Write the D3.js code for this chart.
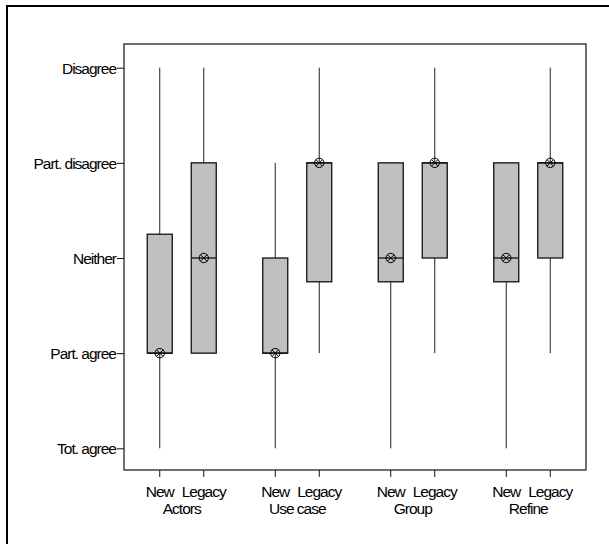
<!DOCTYPE html>
<html>
<head>
<meta charset="utf-8">
<script src="https://cdn.jsdelivr.net/npm/d3@7/dist/d3.min.js"></script>
<style>
  html, body { margin: 0; padding: 0; background: #fff; }
  svg text { font-family: "Liberation Sans", Arial, sans-serif; font-size: 15.5px; fill: #000; letter-spacing: -1px; }
</style>
</head>
<body>
<svg id="chart" width="609" height="544"></svg>
<script>
// Likert scale levels, 1 = Tot. agree ... 5 = Disagree
const levelLabels = ["Tot. agree", "Part. agree", "Neither", "Part. disagree", "Disagree"];
const levelValues = [1, 2, 3, 4, 5];

// Question groups and model variants
const groups = ["Actors", "Use case", "Group", "Refine"];
const variants = ["New", "Legacy"];

// One entry per box, ordered Actors-New, Actors-Legacy, Use case-New, ...
const boxGroup   = ["Actors", "Actors", "Use case", "Use case", "Group", "Group", "Refine", "Refine"];
const boxVariant = ["New", "Legacy", "New", "Legacy", "New", "Legacy", "New", "Legacy"];
const whiskerLow  = [1, 2, 1, 2, 1, 2, 1, 2];
const quartile1   = [2, 2, 2, 2.75, 2.75, 3, 2.75, 3];
const medians     = [2, 3, 2, 4, 3, 4, 3, 4];
const quartile3   = [3.25, 4, 3, 4, 4, 4, 4, 4];
const whiskerHigh = [5, 5, 4, 5, 4, 5, 4, 5];
const markers     = [2, 3, 2, 4, 3, 4, 3, 4];

const svg = d3.select("#chart");

// outer border (left and top edges)
svg.append("path")
  .attr("d", "M7,544 V6 H609")
  .attr("fill", "none").attr("stroke", "#000").attr("stroke-width", 2);

const frame = { left: 124, right: 586, top: 44, bottom: 470 };

const y = d3.scaleLinear().domain([1, 5]).range([448.3, 67.7]);
const xGroup = d3.scaleBand().domain(groups).range([frame.left, frame.right]).padding(0);
const xVar = d3.scalePoint().domain(variants).range([0, xGroup.bandwidth()]).padding(0.8125);
const cx = i => xGroup(boxGroup[i]) + xVar(boxVariant[i]);

const boxW = 25;

// plot frame
svg.append("rect")
  .attr("x", frame.left).attr("y", frame.top)
  .attr("width", frame.right - frame.left).attr("height", frame.bottom - frame.top)
  .attr("fill", "none").attr("stroke", "#111").attr("stroke-width", 1.2);

// y axis
const yAxis = d3.axisLeft(y).tickValues(levelValues)
  .tickFormat(d => levelLabels[d - 1]).tickSize(7).tickPadding(1);
const yg = svg.append("g").attr("transform", `translate(${frame.left},0)`).call(yAxis);
yg.select(".domain").remove();
yg.selectAll("line").attr("stroke", "#111");
yg.selectAll("text").attr("font-size", null).attr("font-family", null).attr("dy", "0.36em");

// x axis ticks and labels
const idx = d3.range(boxGroup.length);
const xg = svg.append("g");
xg.selectAll("line.xt").data(idx).join("line")
  .attr("x1", cx).attr("x2", cx)
  .attr("y1", frame.bottom).attr("y2", frame.bottom + 7)
  .attr("stroke", "#111");
xg.selectAll("text.var").data(idx).join("text")
  .attr("x", cx).attr("y", 497)
  .attr("text-anchor", "middle")
  .text(i => boxVariant[i]);
xg.selectAll("text.grp").data(groups).join("text")
  .attr("x", g => xGroup(g) + xGroup.bandwidth() / 2).attr("y", 514)
  .attr("text-anchor", "middle")
  .text(g => g);

// whiskers
svg.append("g").selectAll("line").data(idx).join("line")
  .attr("x1", cx).attr("x2", cx)
  .attr("y1", i => y(whiskerLow[i])).attr("y2", i => y(whiskerHigh[i]))
  .attr("stroke", "#222").attr("stroke-width", 1);

// boxes
svg.append("g").selectAll("rect").data(idx).join("rect")
  .attr("x", i => cx(i) - boxW / 2).attr("width", boxW)
  .attr("y", i => y(quartile3[i])).attr("height", i => y(quartile1[i]) - y(quartile3[i]))
  .attr("fill", "#c0c0c0").attr("stroke", "#111").attr("stroke-width", 1.3);

// medians
svg.append("g").selectAll("line").data(idx).join("line")
  .attr("x1", i => cx(i) - boxW / 2).attr("x2", i => cx(i) + boxW / 2)
  .attr("y1", i => y(medians[i])).attr("y2", i => y(medians[i]))
  .attr("stroke", "#111").attr("stroke-width", 1.3);

// circled-cross markers
const r = 4.7, k = r * Math.SQRT1_2;
const mk = svg.append("g").selectAll("g").data(idx).join("g")
  .attr("transform", i => `translate(${cx(i)},${y(markers[i])})`);
mk.append("circle").attr("r", r).attr("fill", "none").attr("stroke", "#000").attr("stroke-width", 1);
mk.append("path").attr("d", `M${-k},${-k}L${k},${k}M${-k},${k}L${k},${-k}`)
  .attr("stroke", "#000").attr("stroke-width", 1);
</script>
</body>
</html>
